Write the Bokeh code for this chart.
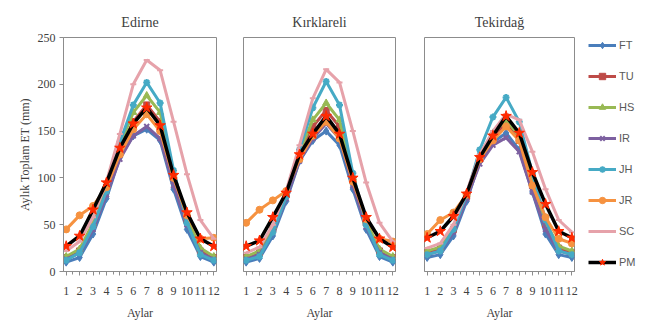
from bokeh.plotting import figure
from bokeh.layouts import row
from bokeh.models import FixedTicker, Legend, LegendItem, Range1d
from bokeh.embed import file_html
from bokeh.resources import INLINE

months = [1, 2, 3, 4, 5, 6, 7, 8, 9, 10, 11, 12]
month_labels = {m: str(m) for m in months}
stations = ["Edirne", "Kırklareli", "Tekirdağ"]
series_names = ["FT", "TU", "HS", "IR", "JH", "JR", "SC", "PM"]
y_ticks = [0, 50, 100, 150, 200, 250]

# Edirne
ed_FT = [10, 15, 40, 78, 122, 145, 152, 140, 88, 45, 16, 10]
ed_TU = [15, 22, 50, 90, 130, 160, 178, 160, 100, 55, 22, 15]
ed_HS = [16, 24, 52, 90, 135, 170, 188, 170, 105, 58, 25, 16]
ed_IR = [13, 20, 45, 82, 120, 145, 155, 142, 92, 50, 20, 13]
ed_JH = [12, 20, 48, 86, 138, 178, 202, 180, 108, 52, 18, 12]
ed_JR = [45, 60, 70, 90, 125, 152, 168, 150, 100, 60, 35, 36]
ed_SC = [22, 32, 58, 96, 147, 200, 226, 215, 160, 104, 55, 35]
ed_PM = [27, 38, 66, 95, 132, 158, 175, 156, 103, 63, 35, 27]

# Kirklareli
kr_FT = [10, 14, 38, 75, 118, 140, 150, 135, 88, 45, 16, 10]
kr_TU = [15, 20, 45, 82, 125, 155, 172, 155, 98, 52, 22, 15]
kr_HS = [16, 22, 48, 84, 128, 162, 180, 162, 100, 54, 24, 16]
kr_IR = [13, 18, 42, 78, 118, 142, 158, 142, 92, 48, 20, 13]
kr_JH = [12, 16, 42, 80, 130, 175, 203, 178, 105, 50, 18, 12]
kr_JR = [52, 66, 76, 86, 120, 145, 160, 142, 96, 56, 35, 32]
kr_SC = [20, 26, 50, 86, 135, 185, 216, 202, 150, 95, 52, 32]
kr_PM = [27, 33, 58, 84, 125, 147, 166, 147, 100, 58, 35, 26]

# Tekirdag
tk_FT = [15, 18, 38, 75, 118, 138, 148, 130, 85, 40, 18, 15]
tk_TU = [20, 24, 45, 80, 120, 145, 158, 140, 92, 50, 25, 20]
tk_HS = [22, 26, 48, 82, 122, 148, 162, 145, 95, 52, 27, 22]
tk_IR = [18, 22, 42, 78, 115, 135, 143, 128, 85, 45, 22, 18]
tk_JH = [18, 22, 45, 82, 130, 165, 186, 160, 105, 55, 22, 18]
tk_JR = [40, 55, 63, 82, 120, 140, 155, 140, 92, 58, 35, 30]
tk_SC = [25, 30, 50, 85, 125, 150, 168, 162, 128, 88, 55, 42]
tk_PM = [36, 43, 59, 83, 122, 145, 166, 148, 106, 72, 43, 36]

data = {
    "Edirne": [ed_FT, ed_TU, ed_HS, ed_IR, ed_JH, ed_JR, ed_SC, ed_PM],
    "Kırklareli": [kr_FT, kr_TU, kr_HS, kr_IR, kr_JH, kr_JR, kr_SC, kr_PM],
    "Tekirdağ": [tk_FT, tk_TU, tk_HS, tk_IR, tk_JH, tk_JR, tk_SC, tk_PM],
}

line_colors = ["#4A7EBB", "#BE4B48", "#98B954", "#7D60A0", "#46AAC5", "#F69240", "#E6A2AA", "#000000"]
marker_colors = ["#4A7EBB", "#BE4B48", "#98B954", "#7D60A0", "#46AAC5", "#F69240", "#E6A2AA", "#FF2A00"]
markers = ["diamond", "square", "triangle", "x", "asterisk", "circle", "dash", "star"]
marker_sizes = [8, 6, 7, 7, 7, 7, 6, 11]

SERIF = "Liberation Serif"
TXT = "#404040"
AX = "#8C8C8C"

widths = [230, 179, 179]
lefts = [63, 13, 15]
rights = [14, 14, 14]


def draw_series(p, vals, k):
    lw = 3.5 if series_names[k] == "PM" else 3
    lr = p.line(months, vals, line_color=line_colors[k], line_width=lw)
    if markers[k] in ("x", "asterisk", "dash"):
        sr = p.scatter(months, vals, marker=markers[k], size=marker_sizes[k],
                       line_color=marker_colors[k], line_width=2)
    else:
        sr = p.scatter(months, vals, marker=markers[k], size=marker_sizes[k],
                       fill_color=marker_colors[k], line_color=marker_colors[k])
    return lr, sr


figs = []
for i, st in enumerate(stations):
    p = figure(width=widths[i], height=327, output_backend="svg", toolbar_location=None,
               x_range=Range1d(0.8, 12.2), y_range=Range1d(0, 250),
               min_border_left=lefts[i], min_border_right=rights[i],
               min_border_top=37, min_border_bottom=56, title=st)
    p.title.text_font = SERIF
    p.title.text_font_size = "14px"
    p.title.text_font_style = "normal"
    p.title.text_color = TXT
    p.title.align = "center"
    p.title.standoff = 16
    p.background_fill_color = "white"
    p.border_fill_color = "white"
    p.outline_line_color = AX
    p.outline_line_width = 1
    p.xgrid.visible = False
    p.ygrid.visible = False

    p.xaxis.ticker = FixedTicker(ticks=months, minor_ticks=[m + 0.5 for m in months[:-1]] + [0.5])
    p.xaxis.major_label_overrides = month_labels
    p.xaxis.axis_label = "Aylar"
    p.xaxis.axis_label_text_font = SERIF
    p.xaxis.axis_label_text_font_size = "12px"
    p.xaxis.axis_label_text_font_style = "normal"
    p.xaxis.axis_label_text_color = TXT
    p.xaxis.axis_label_standoff = 8
    p.xaxis.major_label_text_font = SERIF
    p.xaxis.major_label_text_font_size = "12px"
    p.xaxis.major_label_text_color = TXT
    p.xaxis.major_label_standoff = 11
    p.xaxis.axis_line_color = AX
    p.xaxis.major_tick_line_color = AX
    p.xaxis.minor_tick_line_color = AX
    p.xaxis.major_tick_in = 0
    p.xaxis.major_tick_out = 4
    p.xaxis.minor_tick_in = 0
    p.xaxis.minor_tick_out = 3

    if i == 0:
        p.yaxis.ticker = FixedTicker(ticks=y_ticks)
        p.yaxis.axis_label = "Aylık Toplam ET (mm)"
        p.yaxis.axis_label_text_font = SERIF
        p.yaxis.axis_label_text_font_size = "12px"
        p.yaxis.axis_label_text_font_style = "normal"
        p.yaxis.axis_label_text_color = TXT
        p.yaxis.axis_label_standoff = 3
        p.yaxis.major_label_text_font = SERIF
        p.yaxis.major_label_text_font_size = "12px"
        p.yaxis.major_label_text_color = TXT
        p.yaxis.major_label_standoff = 4
        p.yaxis.axis_line_color = AX
        p.yaxis.major_tick_line_color = AX
        p.yaxis.major_tick_in = 0
        p.yaxis.major_tick_out = 4
        p.yaxis.minor_tick_line_color = None
    else:
        p.yaxis.visible = False

    for k in range(len(series_names)):
        draw_series(p, data[st][k], k)
    figs.append(p)

# Legend panel (its own series are drawn outside its visible ranges)
lg = figure(width=66, height=327, output_backend="svg", toolbar_location=None,
            title=None, x_axis_location=None, y_axis_location=None,
            x_range=Range1d(100, 101), y_range=Range1d(1000, 1001),
            min_border_left=0, min_border_right=0,
            min_border_top=37, min_border_bottom=56)
lg.grid.visible = False
lg.outline_line_color = None
lg.background_fill_color = "white"
lg.border_fill_color = "white"
items = []
for k, name in enumerate(series_names):
    lr, sr = draw_series(lg, data["Tekirdağ"][k], k)
    items.append(LegendItem(label=name, renderers=[lr, sr]))
legend = Legend(items=items, location="top_left", orientation="vertical",
                glyph_width=28, glyph_height=16, label_height=16, spacing=15,
                label_standoff=3, padding=0, margin=0,
                border_line_color=None, background_fill_alpha=0,
                label_text_font="Liberation Sans", label_text_font_size="11px",
                label_text_color="#595959")
lg.add_layout(legend)
figs.append(lg)

layout = row(*figs)
open("out.html", "w").write(file_html(layout, INLINE))
